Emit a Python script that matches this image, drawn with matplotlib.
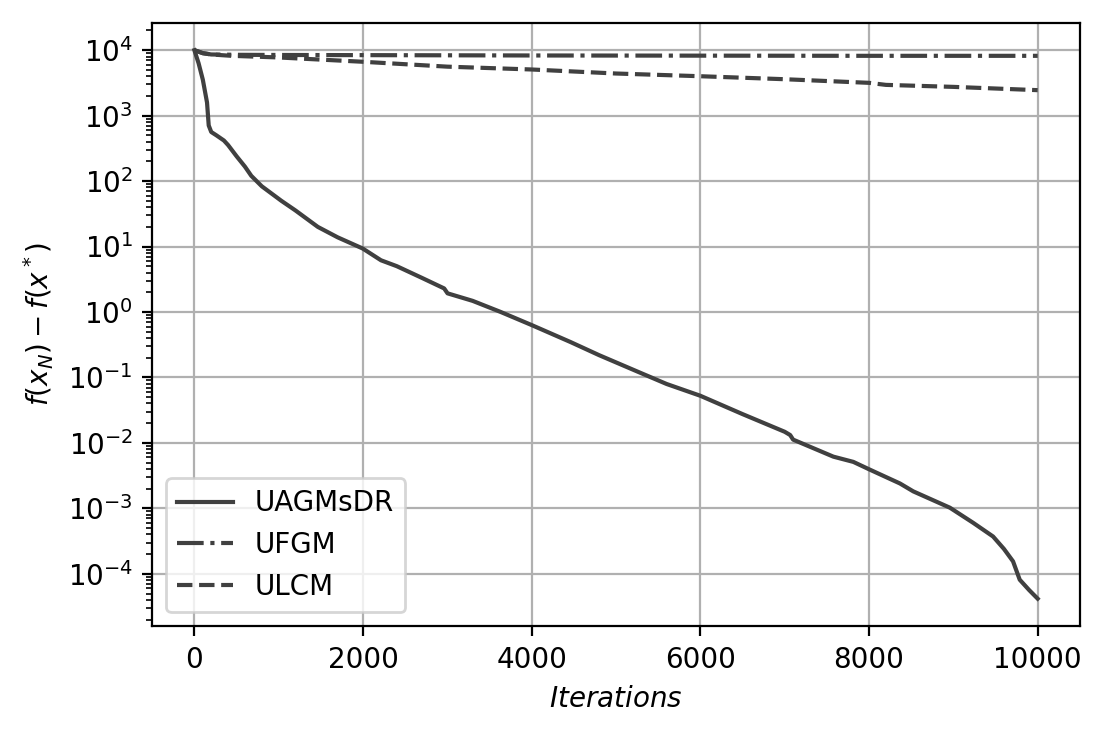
import numpy as np
import matplotlib
matplotlib.use("Agg")
import matplotlib.pyplot as plt

DPI = 200
WIDTH = 1103
HEIGHT = 734

# UAGMsDR: iteration and log10 of f(x_N) - f(x*)
uagm_it = [0, 50, 100, 150, 170, 200, 260, 350, 400, 500, 600, 675, 800, 1030,
           1200, 1464, 1700, 1996, 2213, 2400, 2700, 2962, 3002, 3300, 3633,
           4000, 4462, 4800, 5290, 5600, 6000, 6500, 7000, 7065, 7100, 7577,
           7814, 8012, 8367, 8524, 8959, 9234, 9471, 9600, 9708, 9787, 9900,
           10000]
uagm_log = [4.0, 3.8, 3.55, 3.2, 2.85, 2.75, 2.70, 2.62, 2.55, 2.38, 2.22,
            2.08, 1.92, 1.70, 1.55, 1.30, 1.14, 0.97, 0.79, 0.70, 0.52, 0.36,
            0.285, 0.17, 0.0, -0.20, -0.46, -0.66, -0.93, -1.10, -1.28, -1.56,
            -1.83, -1.88, -1.95, -2.21, -2.29, -2.41, -2.62, -2.74, -2.99,
            -3.22, -3.43, -3.62, -3.81, -4.09, -4.25, -4.38]

ufgm_it = [0, 100, 200, 500, 1000, 2000, 4000, 6000, 8000, 10000]
ufgm_val = [10000, 9000, 8600, 8500, 8450, 8400, 8300, 8250, 8200, 8200]

ulcm_it = [0, 100, 200, 440, 1000, 2000, 3000, 4000, 5000, 6000, 7000, 8000,
           8200, 9000, 10000]
ulcm_val = [10000, 9000, 8600, 8200, 7740, 6650, 5600, 5070, 4400, 4000, 3600,
            3170, 2950, 2750, 2450]

color = "#404040"

fig = plt.figure(figsize=(WIDTH / DPI, HEIGHT / DPI), dpi=DPI)
ax = fig.add_axes([0.138, 0.147, 0.841, 0.822])

ax.plot(uagm_it, 10.0 ** np.array(uagm_log), "-", color=color, lw=1.5, label="UAGMsDR")
ax.plot(ufgm_it, ufgm_val, "-.", color=color, lw=1.5, label="UFGM")
ax.plot(ulcm_it, ulcm_val, "--", color=color, lw=1.5, label="ULCM")

ax.set_yscale("log")
ax.grid(True)
ax.set_xlabel(r"$Iterations$")
ax.set_ylabel(r"$f(x_N) - f(x^*)$")
ax.legend(loc="lower left")

fig.savefig("out.png", dpi=DPI)
plt.close()
